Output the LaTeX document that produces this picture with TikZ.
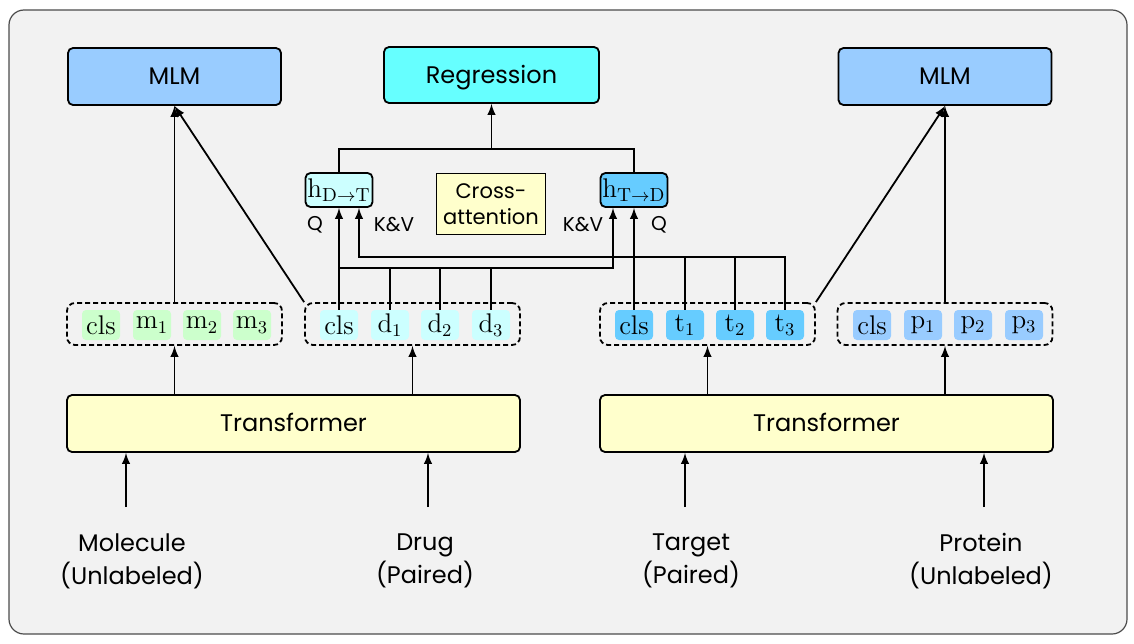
\documentclass[tikz,border=0pt]{standalone}
\usepackage{fontspec}
\setsansfont{Poppins}
\usepackage{xcolor}
\definecolor{panel}{RGB}{242,242,242}
\definecolor{mlm}{RGB}{153,204,255}
\definecolor{regress}{RGB}{102,255,255}
\definecolor{drug}{RGB}{204,255,255}
\definecolor{target}{RGB}{102,204,255}
\definecolor{molecule}{RGB}{204,255,204}
\definecolor{protein}{RGB}{153,204,255}
\definecolor{yellowbox}{RGB}{255,255,204}
\tikzstyle{block}=[draw, line width=0.9pt, rounded corners=2.5pt, text height=9pt, text depth=0.6pt, font=\sffamily\fontsize{12}{14}\selectfont]
\tikzset{token/.style={rounded corners=2pt, minimum width=19pt, minimum height=15pt, inner sep=0pt, font=\fontsize{13.5}{15}\selectfont}}
\tikzset{group/.style={draw, dash pattern=on 2.5pt off 1.5pt, line width=0.9pt, rounded corners=4pt, minimum width=107.5pt, minimum height=21pt}}
\tikzset{link/.style={line width=0.9pt}}
\tikzset{small/.style={font=\sffamily\fontsize{10}{12}\selectfont}}

\begin{document}
\begin{tikzpicture}[x=0.5pt, y=-0.5pt, font=\sffamily]
  \useasboundingbox (0,0) rectangle (1134,643);
  \draw[fill=panel, draw=black!70, line width=0.6pt, rounded corners=7.5pt] (9,10) rectangle (1127,634);

  %% Heads
  \draw (174.5,76.5) node[block,fill=mlm,minimum width=106.5pt,minimum height=28.5pt] (MLML) {MLM};
  \draw (491.5,75) node[block,fill=regress,minimum width=107.5pt,minimum height=28pt] (Reg) {Regression};
  \draw (945,76.5) node[block,fill=mlm,minimum width=106.5pt,minimum height=28.5pt] (MLMR) {MLM};

  %% Cross attention
  \draw (339,190) node[block,fill=drug,minimum width=33pt,minimum height=17pt,inner sep=1pt,text height=,text depth=,font=\fontsize{13.5}{15}\selectfont] (HDT) {$\mathrm{h}_{\mathrm{D}\rightarrow\mathrm{T}}$};
  \draw (634,190) node[block,fill=target,minimum width=33pt,minimum height=17pt,inner sep=1pt,text height=,text depth=,font=\fontsize{13.5}{15}\selectfont] (HTD) {$\mathrm{h}_{\mathrm{T}\rightarrow\mathrm{D}}$};
  \draw (491,204) node[block,sharp corners,fill=yellowbox,minimum width=53pt,minimum height=30.5pt,align=center,text height=,text depth=,font=\sffamily\fontsize{10.5}{13}\selectfont] (Cross) {Cross-\\attention};
  \draw (315,225) node[small] (QD) {Q};
  \draw (394,225) node[small] (KVD) {K\&V};
  \draw (583,225) node[small] (KVT) {K\&V};
  \draw (659,225) node[small] (QT) {Q};

  %% Token groups
  \draw (174.5,324) node[group] (GM) {};
  \draw (412.5,324) node[group] (GD) {};
  \draw (707.5,324) node[group] (GT) {};
  \draw (945,324) node[group] (GP) {};

  \draw (101,325) node[token,fill=molecule] (M0) {$\mathrm{cls}$};
  \draw (152,325) node[token,fill=molecule] (M1) {$\mathrm{m}_1$};
  \draw (202,325) node[token,fill=molecule] (M2) {$\mathrm{m}_2$};
  \draw (252,325) node[token,fill=molecule] (M3) {$\mathrm{m}_3$};

  \draw (339,325) node[token,fill=drug] (D0) {$\mathrm{cls}$};
  \draw (390,325) node[token,fill=drug] (D1) {$\mathrm{d}_1$};
  \draw (440,325) node[token,fill=drug] (D2) {$\mathrm{d}_2$};
  \draw (491,325) node[token,fill=drug] (D3) {$\mathrm{d}_3$};

  \draw (634,325) node[token,fill=target] (T0) {$\mathrm{cls}$};
  \draw (685,325) node[token,fill=target] (T1) {$\mathrm{t}_1$};
  \draw (735,325) node[token,fill=target] (T2) {$\mathrm{t}_2$};
  \draw (785,325) node[token,fill=target] (T3) {$\mathrm{t}_3$};

  \draw (872,325) node[token,fill=protein] (P0) {$\mathrm{cls}$};
  \draw (923,325) node[token,fill=protein] (P1) {$\mathrm{p}_1$};
  \draw (973,325) node[token,fill=protein] (P2) {$\mathrm{p}_2$};
  \draw (1024,325) node[token,fill=protein] (P3) {$\mathrm{p}_3$};

  %% Encoders
  \draw (293.5,423.5) node[block,fill=yellowbox,minimum width=226.5pt,minimum height=28.5pt] (TL) {Transformer};
  \draw (826.5,423.5) node[block,fill=yellowbox,minimum width=226.5pt,minimum height=28.5pt] (TR) {Transformer};

  %% Inputs
  \draw (132,561) node[align=center,font=\sffamily\fontsize{12}{16.5}\selectfont] (Mol) {Molecule\\(Unlabeled)};
  \draw (425,561) node[align=center,font=\sffamily\fontsize{12}{16.5}\selectfont] (Drug) {Drug\\(Paired)};
  \draw (691,561) node[align=center,font=\sffamily\fontsize{12}{16.5}\selectfont] (Tgt) {Target\\(Paired)};
  \draw (981,561) node[align=center,font=\sffamily\fontsize{12}{16.5}\selectfont] (Prot) {Protein\\(Unlabeled)};

  \coordinate (inM) at (126,507);
  \coordinate (inD) at (428,507);
  \coordinate (inT) at (685,507);
  \coordinate (inP) at (984,507);
  \draw[-latex,link] (inM) -- (inM |- TL.south);
  \draw[-latex,link] (inD) -- (inD |- TL.south);
  \draw[-latex,link] (inT) -- (inT |- TR.south);
  \draw[-latex,link] (inP) -- (inP |- TR.south);

  \draw[-latex,link] (TL.north -| GM.south) -- (GM.south);
  \draw[-latex,link] (TL.north -| GD.south) -- (GD.south);
  \draw[-latex,link] (TR.north -| GT.south) -- (GT.south);
  \draw[-latex,link] (TR.north -| GP.south) -- (GP.south);

  %% MLM heads
  \draw[-latex,link] (GM.north) -- (MLML.south);
  \draw[-latex,link] (GD.north west) -- (MLML.south);
  \draw[-latex,link] (GP.north) -- (MLMR.south);
  \draw[-latex,link] (GT.north east) -- (MLMR.south);

  %% Queries, keys and values
  \coordinate (dbus) at (0,268);
  \coordinate (tbus) at (0,257);
  \coordinate (top) at (0,149);
  \draw[-latex,link] (D0.north) -- (HDT.south);
  \draw[-latex,link] (D0 |- dbus) -| ([xshift=-10.5pt]HTD.south);
  \draw[link] (D1.north) -- (D1 |- dbus);
  \draw[link] (D2.north) -- (D2 |- dbus);
  \draw[link] (D3.north) -- (D3 |- dbus);

  \draw[-latex,link] (T0.north) -- (HTD.south);
  \draw[-latex,link] (T3.north) -- (T3 |- tbus) -| ([xshift=10pt]HDT.south);
  \draw[link] (T1.north) -- (T1 |- tbus);
  \draw[link] (T2.north) -- (T2 |- tbus);

  %% Regression head
  \draw[link] (HDT.north) -- (HDT.north |- top) -- (HTD.north |- top) -- (HTD.north);
  \draw[-latex,link] (Reg.south |- top) -- (Reg.south);
\end{tikzpicture}
\end{document}
